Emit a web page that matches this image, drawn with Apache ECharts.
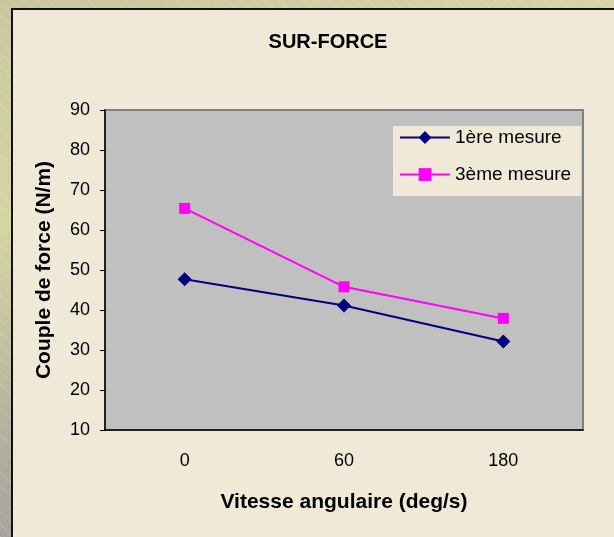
<!DOCTYPE html>
<html>
<head>
<meta charset="utf-8">
<script src="https://cdn.jsdelivr.net/npm/echarts@6/dist/echarts.min.js"></script>
<style>
  html, body { margin: 0; padding: 0; }
  body {
    width: 614px; height: 537px; overflow: hidden; position: relative;
    background: linear-gradient(160deg, #c9c79e 0%, #d6d4a2 30%, #aeae9e 60%, #8a8a9c 100%);
  }
  #stripes {
    position: absolute; left: 0; top: 0; width: 614px; height: 537px;
    background: repeating-linear-gradient(45deg, rgba(255,255,255,0.12) 0px, rgba(255,255,255,0.12) 1px, transparent 1px, transparent 9px);
  }
  #panel {
    position: absolute; left: 11px; top: 8px; width: 620px; height: 540px;
    background: #f0e9d8; border: 2px solid #111;
  }
  #chart { position: absolute; left: 0; top: 0; width: 614px; height: 537px; }
</style>
</head>
<body>
<div id="stripes"></div>
<div id="panel"></div>
<div id="chart"></div>
<script>
// chart data
var speeds = ['0', '60', '180'];
var mesure1 = [47.7, 41.1, 32.1];
var mesure3 = [65.4, 45.8, 37.9];
var yTicks = [10, 20, 30, 40, 50, 60, 70, 80, 90];

var myChart = echarts.init(document.getElementById('chart'));
var option = {
    animation: false,
    title: {
        text: 'SUR-FORCE',
        left: 323,
        top: 27,
        textAlign: 'center',
        textStyle: {
            fontFamily: '"Liberation Sans", Arial, sans-serif',
            fontWeight: 'bold',
            fontSize: 20,
            color: '#000'
        }
    },
    legend: {
        orient: 'vertical',
        left: 393,
        top: 126,
        padding: [2, 10, 12, 6],
        backgroundColor: '#f0e9d8',
        itemWidth: 50,
        itemHeight: 16,
        itemGap: 18,
        textStyle: {
            fontFamily: '"Liberation Sans", Arial, sans-serif',
            fontSize: 19,
            color: '#000'
        },
        data: ['1ère mesure', '3ème mesure']
    },
    grid: {
        left: 105,
        top: 110,
        right: 31,
        bottom: 107,
        show: true,
        backgroundColor: '#c0c0c0',
        borderColor: '#808080',
        borderWidth: 2
    },
    xAxis: {
        type: 'category',
        data: speeds,
        boundaryGap: true,
        name: 'Vitesse angulaire (deg/s)',
        nameLocation: 'middle',
        nameGap: 62,
        nameTextStyle: {
            fontFamily: '"Liberation Sans", Arial, sans-serif',
            fontWeight: 'bold',
            fontSize: 21,
            color: '#000'
        },
        axisLine: { lineStyle: { color: '#000', width: 1.5 } },
        axisTick: { length: 6, lineStyle: { color: '#000' } },
        axisLabel: {
            margin: 22,
            fontFamily: '"Liberation Sans", Arial, sans-serif',
            fontSize: 18,
            color: '#000'
        },
        splitLine: { show: false }
    },
    yAxis: {
        type: 'value',
        min: yTicks[0],
        max: yTicks[yTicks.length - 1],
        interval: 10,
        name: 'Couple de force (N/m)',
        nameLocation: 'middle',
        nameGap: 50,
        nameTextStyle: {
            fontFamily: '"Liberation Sans", Arial, sans-serif',
            fontWeight: 'bold',
            fontSize: 21,
            color: '#000'
        },
        axisLine: { show: true, lineStyle: { color: '#000', width: 1.5 } },
        axisTick: { show: true, length: 5, lineStyle: { color: '#000' } },
        axisLabel: {
            margin: 15,
            fontFamily: '"Liberation Sans", Arial, sans-serif',
            fontSize: 18,
            color: '#000'
        },
        splitLine: { show: false }
    },
    series: [{
        name: '1ère mesure',
        type: 'line',
        data: mesure1,
        symbol: 'diamond',
        symbolSize: 14,
        showAllSymbol: true,
        itemStyle: { color: '#000080' },
        lineStyle: { color: '#000080', width: 2 }
    }, {
        name: '3ème mesure',
        type: 'line',
        data: mesure3,
        symbol: 'rect',
        symbolSize: 11,
        showAllSymbol: true,
        itemStyle: { color: '#ff00ff' },
        lineStyle: { color: '#ff00ff', width: 2 }
    }]
};

myChart.setOption(option);
</script>
</body>
</html>
